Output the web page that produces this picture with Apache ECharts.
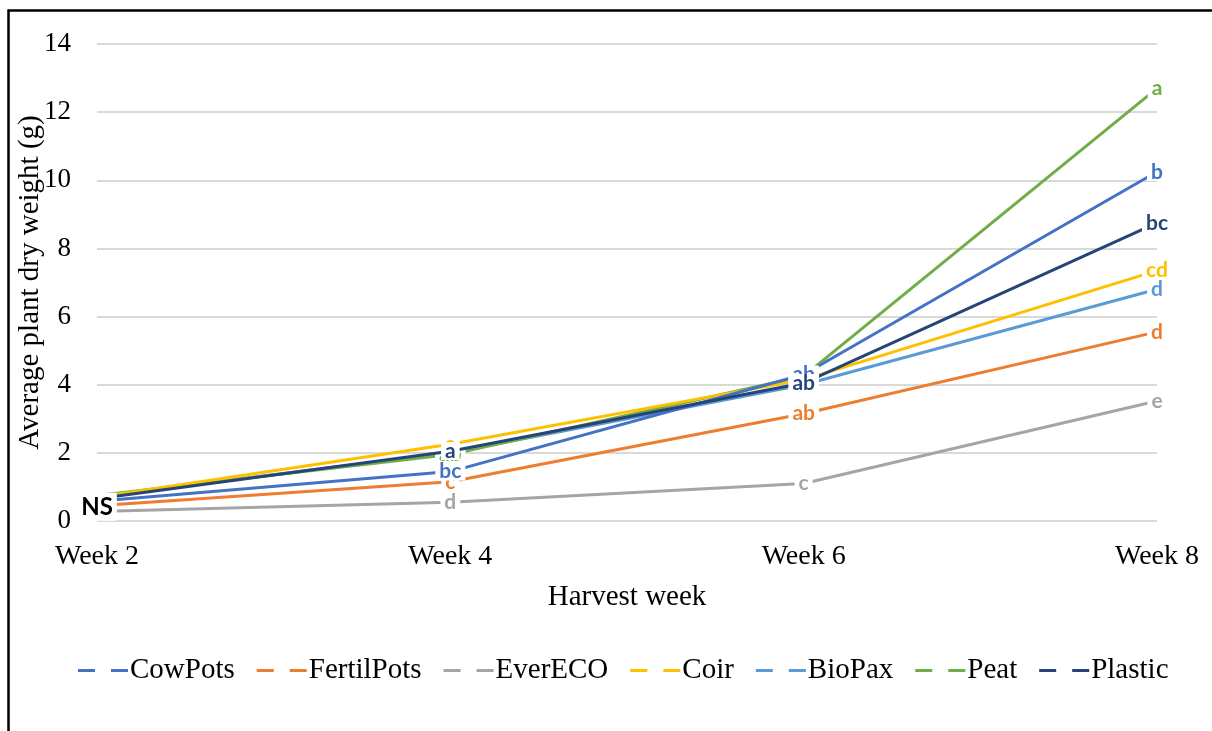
<!DOCTYPE html>
<html>
<head>
<meta charset="utf-8">
<script src="https://cdn.jsdelivr.net/npm/echarts@6/dist/echarts.min.js"></script>
<style>
  html, body { margin: 0; padding: 0; background: #fff; }
  #main { width: 1212px; height: 731px; }
</style>
</head>
<body>
<div id="main"></div>
<script>
// harvest weeks
var weeks = ['Week 2', 'Week 4', 'Week 6', 'Week 8'];
var yTicks = [0, 2, 4, 6, 8, 10, 12, 14];

// average plant dry weight (g)
var cowPots = [0.58, 1.45, 4.3, 10.25];
var fertilPots = [0.45, 1.15, 3.15, 5.55];
var everEco = [0.28, 0.55, 1.1, 3.52];
var coir = [0.7, 2.25, 4.15, 7.35];
var bioPax = [0.72, 2.0, 4.0, 6.8];
var peat = [0.75, 1.95, 4.25, 12.7];
var plastic = [0.65, 2.05, 4.05, 8.75];

// significance letters per point
var cowPotsLetters = ['', 'bc', 'ab', 'b'];
var fertilPotsLetters = ['', 'c', 'ab', 'd'];
var everEcoLetters = ['', 'd', 'c', 'e'];
var coirLetters = ['', 'a', 'ab', 'cd'];
var bioPaxLetters = ['', 'ab', 'ab', 'd'];
var peatLetters = ['', 'ab', 'ab', 'a'];
var plasticLetters = ['NS', 'a', 'ab', 'bc'];

var seriesList = [
  { name: 'CowPots', values: cowPots, letters: cowPotsLetters, color: '#4472C4', z: 9 },
  { name: 'FertilPots', values: fertilPots, letters: fertilPotsLetters, color: '#ED7D31', z: 5 },
  { name: 'EverECO', values: everEco, letters: everEcoLetters, color: '#A5A5A5', z: 4 },
  { name: 'Coir', values: coir, letters: coirLetters, color: '#FFC000', z: 8 },
  { name: 'BioPax', values: bioPax, letters: bioPaxLetters, color: '#5B9BD5', z: 6 },
  { name: 'Peat', values: peat, letters: peatLetters, color: '#70AD47', z: 7 },
  { name: 'Plastic', values: plastic, letters: plasticLetters, color: '#264478', z: 10 }
];

var serif = '"Liberation Serif", "Times New Roman", serif';

var myChart = echarts.init(document.getElementById('main'));

var series = seriesList.map(function (s) {
  return {
    name: s.name,
    type: 'line',
    z: s.z,
    symbol: 'circle',
    symbolSize: 0,
    showSymbol: true,
    color: s.color,
    itemStyle: { color: s.color },
    lineStyle: { width: 3, color: s.color },
    data: s.values.map(function (v, i) {
      var txt = s.letters[i];
      var item = { value: v };
      if (txt === 'NS') {
        item.label = { show: true, color: '#000', fontSize: 24, lineHeight: 24, padding: [2, 4], offset: [0, 8] };
      } else if (txt === '') {
        item.label = { show: false };
      }
      return item;
    }),
    label: {
      show: true,
      position: 'inside',
      formatter: function (p) { return s.letters[p.dataIndex]; },
      color: s.color,
      fontFamily: 'Lato, "Liberation Sans", sans-serif',
      fontWeight: 'bold',
      fontSize: 21,
      lineHeight: 18,
      backgroundColor: '#fff',
      padding: [0, 4]
    }
  };
});

var option = {
  backgroundColor: '#fff',
  animation: false,
  graphic: [{
    type: 'rect',
    shape: { x: 8.5, y: 10.5, width: 1300, height: 1000 },
    style: { fill: 'none', stroke: '#000', lineWidth: 2.5 },
    silent: true
  }],
  grid: { left: 97, right: 55, top: 44, bottom: 210, outerBoundsMode: 'none' },
  legend: {
    bottom: 41,
    left: 73,
    icon: 'path://M0,0h17v3h-17z M33,0h17v3h-17z',
    itemWidth: 50,
    itemHeight: 3,
    itemGap: 22,
    textStyle: { fontFamily: serif, fontSize: 29, color: '#000', padding: [0, 0, 0, -3] },
    data: seriesList.map(function (s) { return s.name; })
  },
  xAxis: {
    type: 'category',
    data: weeks,
    boundaryGap: false,
    name: 'Harvest week',
    nameLocation: 'middle',
    nameGap: 62,
    nameMoveOverlap: false,
    nameTextStyle: { fontFamily: serif, fontSize: 29, color: '#000' },
    axisLine: { show: false },
    axisTick: { show: false },
    axisLabel: { fontFamily: serif, fontSize: 28, color: '#000', margin: 22 }
  },
  yAxis: {
    type: 'value',
    min: yTicks[0],
    max: yTicks[yTicks.length - 1],
    interval: 2,
    name: 'Average plant dry weight (g)',
    nameLocation: 'middle',
    nameGap: 52,
    nameMoveOverlap: false,
    nameTextStyle: { fontFamily: serif, fontSize: 29, color: '#000' },
    axisLine: { show: false },
    axisTick: { show: false },
    axisLabel: { fontFamily: serif, fontSize: 27, color: '#000', margin: 26 },
    splitLine: { lineStyle: { color: '#d9d9d9', width: 2 } }
  },
  series: series
};

myChart.setOption(option);
</script>
</body>
</html>
